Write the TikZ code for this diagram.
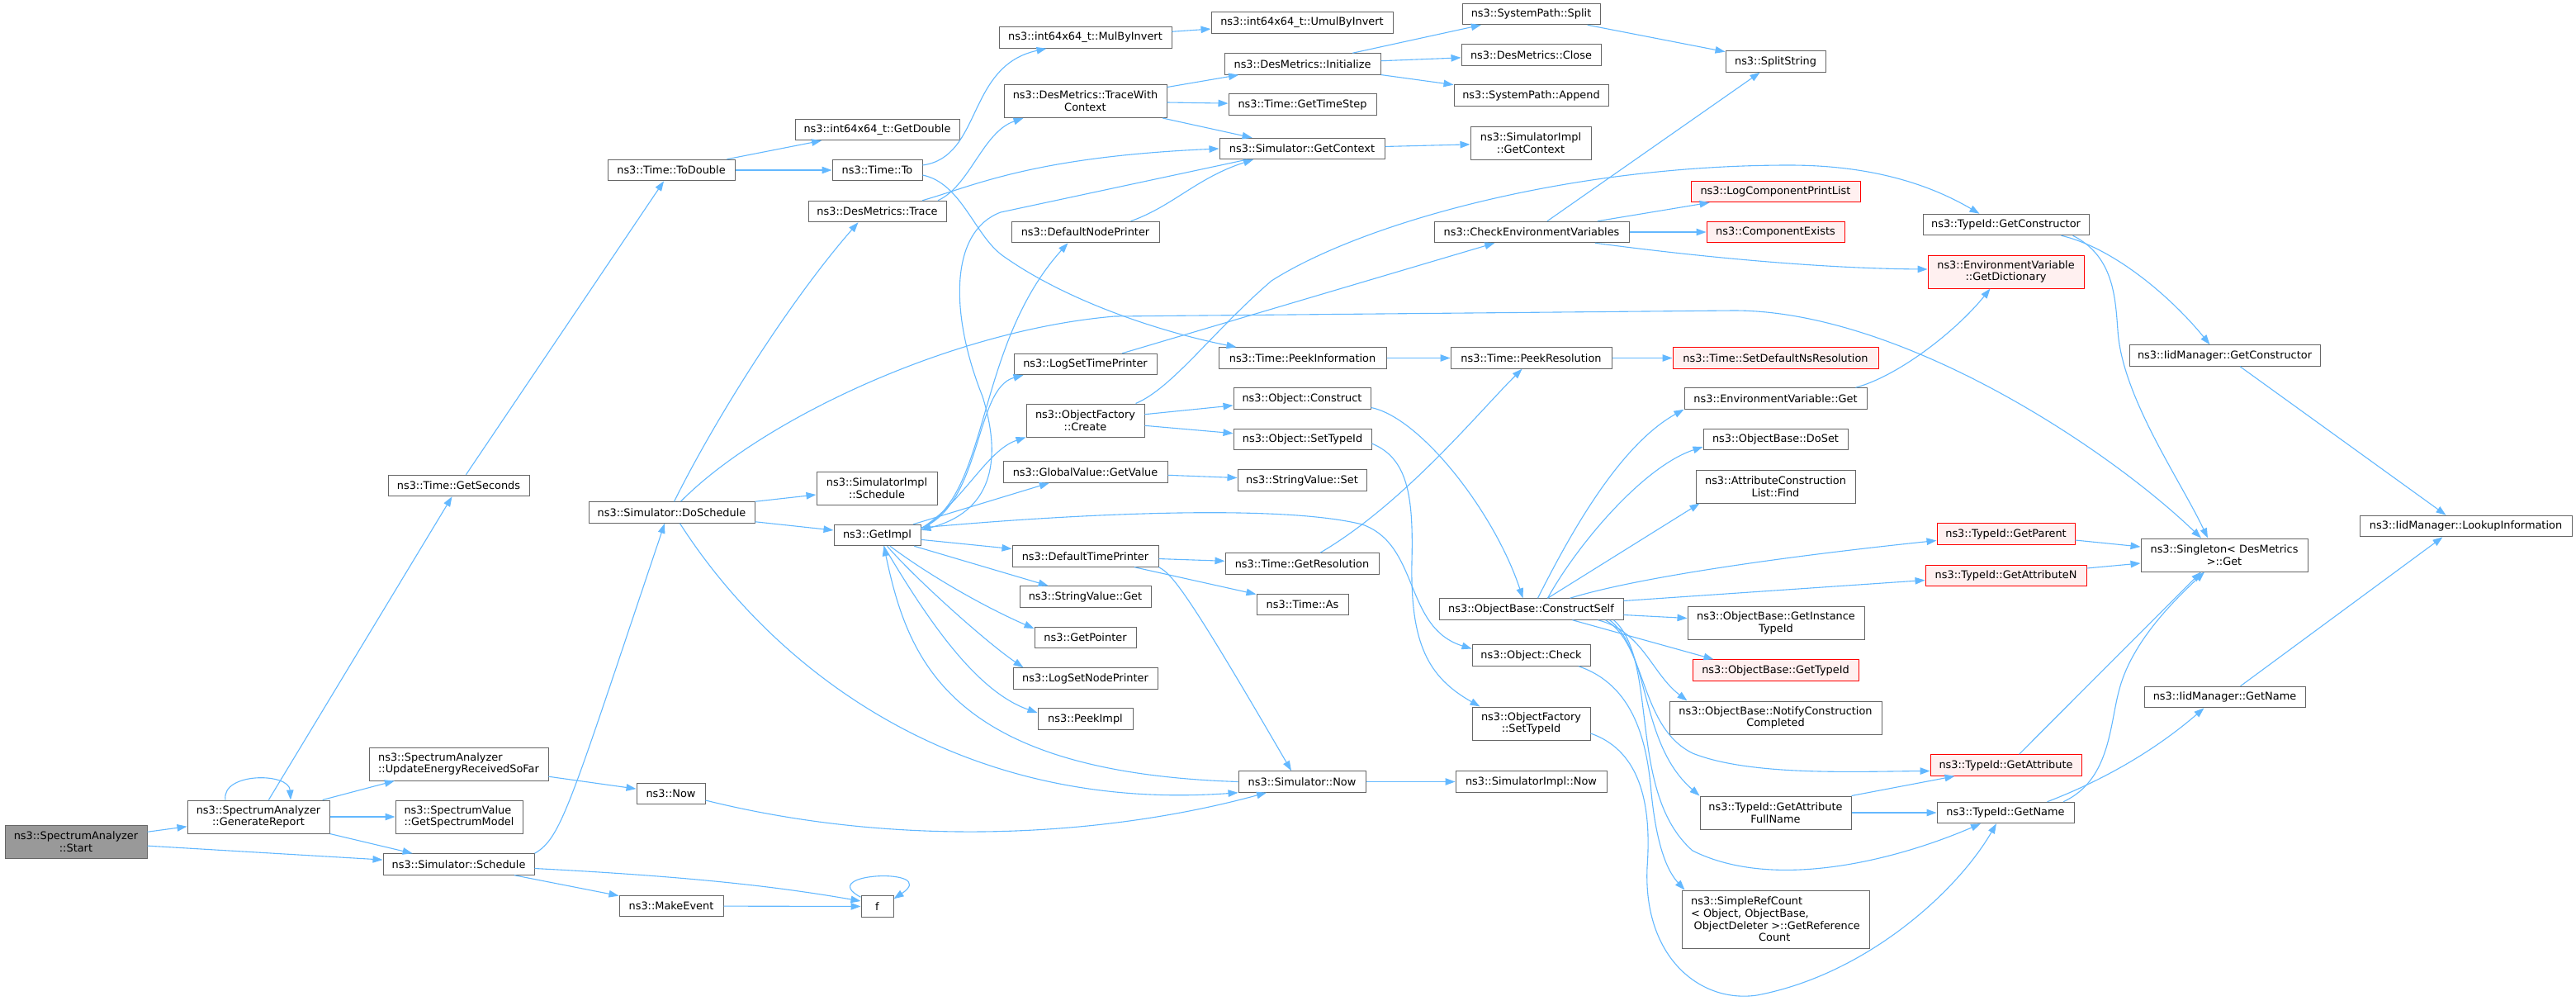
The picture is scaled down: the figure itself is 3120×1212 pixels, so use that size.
\documentclass[tikz,border=0pt]{standalone}
\usepackage{fontspec}
\newfontfamily\dxfont{DejaVu Sans}
\usetikzlibrary{arrows.meta}
\definecolor{edgeblue}{HTML}{63B8FF}
\definecolor{boxgray}{HTML}{666666}
\definecolor{redfill}{HTML}{FFF0F0}
\definecolor{startgray}{HTML}{999999}
\tikzset{
  fn/.style={draw=boxgray, fill=white, line width=1pt, inner sep=2pt,
    minimum height=25.5pt, minimum width=#1pt, align=center,
    font=\dxfont\fontsize{12.9}{14.7}\selectfont},
  fntwo/.style={fn=#1, minimum height=40pt},
  fnred/.style={fn=#1, draw=red, fill=redfill},
  call/.style={draw=edgeblue, line width=1.1pt, -{Triangle[length=12pt,width=8.5pt]}}
}

\begin{document}
\begin{tikzpicture}[x=1pt,y=-1pt]
\useasboundingbox (0,0) rectangle (3120,1212);

\node[fntwo=172, fill=startgray] (start) at (92,1019) {ns3::SpectrumAnalyzer\\::Start};
\node[fntwo=172] (genrep) at (313,989) {ns3::SpectrumAnalyzer\\::GenerateReport};
\node[fntwo=217, align=left] (upden) at (555.5,925) {ns3::SpectrumAnalyzer\\::UpdateEnergyReceivedSoFar};
\node[fntwo=154, align=left] (specmodel) at (556,989) {ns3::SpectrumValue\\::GetSpectrumModel};
\node[fn=183] (sched) at (555.5,1046.5) {ns3::Simulator::Schedule};
\node[fn=171] (seconds) at (555.5,588) {ns3::Time::GetSeconds};
\node[fn=154] (todouble) at (813,206) {ns3::Time::ToDouble};
\node[fn=83] (now) at (812.5,961) {ns3::Now};
\node[fn=126] (makeevent) at (813,1097) {ns3::MakeEvent};
\node[fn=201] (dosched) at (813.5,620.5) {ns3::Simulator::DoSchedule};
\node[fn=199] (getdouble) at (1062.5,157) {ns3::int64x64\_t::GetDouble};
\node[fn=109] (timeto) at (1062.5,206) {ns3::Time::To};
\node[fn=167] (trace) at (1062.5,256) {ns3::DesMetrics::Trace};
\node[fntwo=146] (simimplsched) at (1062,591) {ns3::SimulatorImpl\\::Schedule};
\node[fn=105] (getimpl) at (1062.5,648) {ns3::GetImpl};
\node[fn=39] (f) at (1062.5,1097.5) {f};
\node[fn=209] (mulbyinv) at (1314.5,45.5) {ns3::int64x64\_t::MulByInvert};
\node[fntwo=197] (tracectx) at (1314.5,122.5) {ns3::DesMetrics::TraceWith\\Context};
\node[fn=179] (defnodeprint) at (1314.5,281) {ns3::DefaultNodePrinter};
\node[fn=173] (logsettime) at (1314.5,441) {ns3::LogSetTimePrinter};
\node[fntwo=143] (ofcreate) at (1314.5,509) {ns3::ObjectFactory\\::Create};
\node[fn=199] (gvgetvalue) at (1314.5,571.5) {ns3::GlobalValue::GetValue};
\node[fn=177] (deftimeprint) at (1314.5,673.5) {ns3::DefaultTimePrinter};
\node[fn=159] (svget) at (1314.5,722.5) {ns3::StringValue::Get};
\node[fn=123] (getpointer) at (1314.5,772) {ns3::GetPointer};
\node[fn=175] (logsetnode) at (1314.5,821.5) {ns3::LogSetNodePrinter};
\node[fn=115] (peekimpl) at (1314.5,870.5) {ns3::PeekImpl};
\node[fn=220] (umulbyinv) at (1577,27.5) {ns3::int64x64\_t::UmulByInvert};
\node[fn=189] (desinit) at (1577.5,77.5) {ns3::DesMetrics::Initialize};
\node[fn=179] (timestep) at (1577.5,126.5) {ns3::Time::GetTimeStep};
\node[fn=200] (getcontext) at (1577,180) {ns3::Simulator::GetContext};
\node[fn=203] (peekinfo) at (1577.5,433.5) {ns3::Time::PeekInformation};
\node[fn=166] (objconstruct) at (1577,482.5) {ns3::Object::Construct};
\node[fn=167] (objsettype) at (1577.5,532) {ns3::Object::SetTypeId};
\node[fn=156] (svset) at (1577,581.5) {ns3::StringValue::Set};
\node[fn=186] (getres) at (1577,682.5) {ns3::Time::GetResolution};
\node[fn=111] (timeas) at (1577.5,732) {ns3::Time::As};
\node[fn=154] (simnow) at (1577,946.5) {ns3::Simulator::Now};
\node[fn=167] (pathsplit) at (1854.5,17) {ns3::SystemPath::Split};
\node[fn=169] (desclose) at (1854.5,66.5) {ns3::DesMetrics::Close};
\node[fn=187] (pathappend) at (1854.5,115.5) {ns3::SystemPath::Append};
\node[fntwo=146] (implgetctx) at (1854,173) {ns3::SimulatorImpl\\::GetContext};
\node[fn=236] (checkenv) at (1855,281) {ns3::CheckEnvironmentVariables};
\node[fn=195] (peekres) at (1854.5,433.5) {ns3::Time::PeekResolution};
\node[fn=223] (constructself) at (1854.5,737.5) {ns3::ObjectBase::ConstructSelf};
\node[fn=143] (objcheck) at (1854.5,793.5) {ns3::Object::Check};
\node[fntwo=143] (ofsettype) at (1854.5,876) {ns3::ObjectFactory\\::SetTypeId};
\node[fn=183] (implnow) at (1854.5,946.5) {ns3::SimulatorImpl::Now};
\node[fn=121] (splitstring) at (2150.5,74.5) {ns3::SplitString};
\node[fnred=205] (logcomplist) at (2150.5,232) {ns3::LogComponentPrintList};
\node[fnred=167] (compexists) at (2150.5,281) {ns3::ComponentExists};
\node[fnred=249] (setdefres) at (2150.5,433.5) {ns3::Time::SetDefaultNsResolution};
\node[fn=221] (envget) at (2150.5,482.5) {ns3::EnvironmentVariable::Get};
\node[fn=175] (doset) at (2150.5,532) {ns3::ObjectBase::DoSet};
\node[fntwo=193] (attrfind) at (2150.5,589) {ns3::AttributeConstruction\\List::Find};
\node[fntwo=214] (instancetid) at (2151,754.5) {ns3::ObjectBase::GetInstance\\TypeId};
\node[fnred=201] (gettypeid) at (2150.5,811.5) {ns3::ObjectBase::GetTypeId};
\node[fntwo=257] (notify) at (2150.5,869) {ns3::ObjectBase::NotifyConstruction\\Completed};
\node[fntwo=183] (fullname) at (2150.5,984) {ns3::TypeId::GetAttribute\\FullName};
\node[fn=227, minimum height=70pt, align=left] (refcount) at (2150.5,1113) {ns3::SimpleRefCount\\< Object, ObjectBase,\\\hspace*{3.5pt}ObjectDeleter >::GetReference\\\hspace*{82pt}Count};
\node[fn=201] (getconstructor) at (2429.5,272) {ns3::TypeId::GetConstructor};
\node[fnred=189, minimum height=40pt] (getdict) at (2429.5,329) {ns3::EnvironmentVariable\\::GetDictionary};
\node[fnred=167] (getparent) at (2429.5,646.5) {ns3::TypeId::GetParent};
\node[fnred=195] (getattrn) at (2429.5,697) {ns3::TypeId::GetAttributeN};
\node[fnred=183] (getattr) at (2429.5,926.5) {ns3::TypeId::GetAttribute};
\node[fn=166] (getname) at (2429,984) {ns3::TypeId::GetName};
\node[fn=231] (iidgetctor) at (2694.5,430.5) {ns3::IidManager::GetConstructor};
\node[fntwo=202] (singleton) at (2694,672) {ns3::Singleton< DesMetrics\\ >::Get};
\node[fn=195] (iidgetname) at (2694.5,844) {ns3::IidManager::GetName};
\node[fn=257] (lookup) at (2986.5,637) {ns3::IidManager::LookupInformation};

\draw[call] (start) -- (genrep);
\draw[call] (start) -- (sched);
\draw[call] ([xshift=-40pt]genrep.north) .. controls (268,935) and (350,935) .. ([xshift=39pt]genrep.north);
\draw[call] (genrep) -- (seconds);
\draw[call] (genrep) -- (upden);
\draw[call] (genrep) -- (specmodel);
\draw[call] (genrep) -- (sched);
\draw[call] (upden) -- (now);
\draw[call] (sched.north east) .. controls (680,1015) and (690,975) .. ([xshift=-8.5pt]dosched.south);
\draw[call] ([yshift=-5pt]sched.east) .. controls (850,1062) and (950,1075) .. ([yshift=6.5pt]f.west);
\draw[call] (sched) -- (makeevent);
\draw[call] (makeevent) -- (f);
\draw[call] ([yshift=-2pt]f.north west) .. controls (985,1056) and (1140,1050) .. ([yshift=-4pt]f.north east);
\draw[call] (seconds) -- (todouble);
\draw[call] (todouble) -- (getdouble);
\draw[call] (todouble) -- (timeto);
\draw[call] ([yshift=6pt]timeto.east) .. controls (1190,190) and (1170,80) .. ([xshift=-47pt]mulbyinv.south);
\draw[call] ([yshift=-6pt]timeto.east) .. controls (1165,222) and (1180,285) .. (1215,310) .. controls (1300,370) and (1420,405) .. ([xshift=-80pt]peekinfo.north);
\draw[call] (mulbyinv) -- (umulbyinv);
\draw[call] ([xshift=3pt]dosched.north) .. controls (870,500) and (960,360) .. ([xshift=-23pt]trace.south);
\draw[call] (dosched.north east) -- ([yshift=-8pt]simimplsched.west);
\draw[call] ([xshift=11pt]dosched.north) .. controls (920,510) and (1150,400) .. (1350,383) -- (2100,376) .. controls (2300,376) and (2550,540) .. ([xshift=-28pt]singleton.north);
\draw[call] ([yshift=2pt]dosched.south east) -- ([yshift=6pt]getimpl.west);
\draw[call] ([xshift=10pt]dosched.south) .. controls (930,800) and (1150,985) .. (simnow.south west);
\draw[call] ([yshift=-8pt]now.east) .. controls (1100,1030) and (1350,1010) .. ([xshift=-43pt]simnow.south);
\draw[call] (getimpl) -- (deftimeprint);
\draw[call] (getimpl) -- (svget);
\draw[call] ([xshift=15.5pt]getimpl.south) .. controls (1130,700) and (1197,737) .. ([yshift=11pt]getpointer.west);
\draw[call] ([xshift=12pt]getimpl.south) .. controls (1110,702) and (1195,778) .. ([xshift=13pt]logsetnode.north west);
\draw[call] ([xshift=8pt]getimpl.south) .. controls (1123,750) and (1182,837) .. ([yshift=7.5pt]peekimpl.west);
\draw[call] (simnow.west) .. controls (1150,935) and (1100,800) .. ([xshift=8pt]getimpl.south);
\draw[call] (getimpl) -- (gvgetvalue);
\draw[call] ([yshift=-5pt]getimpl.north east) .. controls (1165,610) and (1195,545) .. (ofcreate.south west);
\draw[call] ([yshift=-5pt]getimpl.north east) .. controls (1190,610) and (1180,470) .. ([xshift=12pt]logsettime.south west);
\draw[call] ([yshift=-5pt]getimpl.north east) .. controls (1200,600) and (1180,420) .. ([xshift=-21pt]defnodeprint.south);
\draw[call] ([xshift=-67pt]getcontext.south) -- (1212,257) .. controls (1150,280) and (1150,380) .. (1190,480) .. controls (1215,560) and (1200,620) .. ([yshift=-7pt]getimpl.north east);
\draw[call] ([yshift=9pt]getimpl.east) .. controls (1300,622) and (1550,610) .. (1650,635) .. controls (1720,660) and (1700,760) .. ([yshift=8pt]objcheck.west);
\draw[call] ([xshift=55pt]defnodeprint.north) .. controls (1420,250) and (1450,215) .. ([xshift=-59pt]getcontext.south);
\draw[call] ([xshift=54.5pt]trace.north) .. controls (1180,225) and (1250,190) .. (getcontext.west);
\draw[call] ([xshift=73.5pt]trace.north) .. controls (1175,225) and (1190,160) .. ([xshift=24pt]tracectx.south west);
\draw[call] (tracectx) -- (desinit);
\draw[call] (tracectx) -- (timestep);
\draw[call] (tracectx) -- (getcontext);
\draw[call] (desinit) -- (pathsplit);
\draw[call] (desinit) -- (desclose);
\draw[call] (desinit) -- (pathappend);
\draw[call] (getcontext) -- (implgetctx);
\draw[call] (pathsplit) -- (splitstring);
\draw[call] (checkenv) -- (splitstring);
\draw[call] (checkenv) -- (logcomplist);
\draw[call] (checkenv) -- (compexists);
\draw[call] ([xshift=77pt]checkenv.south) .. controls (2050,310) and (2200,325) .. ([yshift=3pt]getdict.west);
\draw[call] (logsettime) -- (checkenv);
\draw[call] ([xshift=61pt]ofcreate.north) .. controls (1420,470) and (1470,400) .. (1540,340) .. controls (1650,270) and (1900,200) .. (2167,200) .. controls (2270,200) and (2340,225) .. ([xshift=-32pt]getconstructor.north);
\draw[call] (ofcreate) -- (objconstruct);
\draw[call] (ofcreate) -- (objsettype);
\draw[call] (gvgetvalue) -- (svset);
\draw[call] (deftimeprint) -- (getres);
\draw[call] (deftimeprint) -- (timeas);
\draw[call] (deftimeprint.south east) .. controls (1420,695) and (1440,720) .. ([xshift=-13pt]simnow.north);
\draw[call] ([xshift=22pt]getres.north) .. controls (1700,610) and (1790,500) .. ([xshift=-11pt]peekres.south);
\draw[call] (peekinfo) -- (peekres);
\draw[call] (peekres) -- (setdefres);
\draw[call] (simnow) -- (implnow);
\draw[call] ([yshift=-11pt]objconstruct.east) .. controls (1720,505) and (1810,620) .. ([xshift=-10pt]constructself.north);
\draw[call] ([yshift=-5pt]objsettype.east) .. controls (1705,555) and (1712,600) .. (1710,680) .. controls (1708,780) and (1730,820) .. ([xshift=-62pt]ofsettype.north);
\draw[call] ([xshift=8pt]constructself.north) .. controls (1900,650) and (1960,540) .. (envget.south west);
\draw[call] ([xshift=20pt]constructself.north) .. controls (1910,660) and (1990,565) .. ([yshift=-9pt]doset.west);
\draw[call] ([xshift=20pt]constructself.north) -- ([xshift=-92pt]attrfind.south);
\draw[call] ([xshift=47pt]constructself.north) .. controls (1980,700) and (2150,675) .. ([yshift=-8pt]getparent.west);
\draw[call] ([yshift=10pt]constructself.east) -- ([yshift=-5.5pt]getattrn.west);
\draw[call] ([yshift=-7pt]constructself.east) -- ([yshift=6pt]instancetid.west);
\draw[call] ([xshift=50pt]constructself.south) -- ([xshift=-75pt]gettypeid.north);
\draw[call] ([xshift=81pt]constructself.south) .. controls (1990,765) and (2000,815) .. ([xshift=-107pt]notify.north);
\draw[call] ([xshift=90pt]constructself.south) .. controls (1995,780) and (1985,880) .. (2050,912) .. controls (2120,940) and (2250,934) .. ([yshift=-7pt]getattr.west);
\draw[call] ([xshift=95pt]constructself.south) .. controls (2000,790) and (1985,900) .. (fullname.north west);
\draw[call] ([xshift=100pt]constructself.south) .. controls (2010,800) and (1970,960) .. (2050,1030) .. controls (2150,1080) and (2300,1040) .. ([xshift=-30pt]getname.south);
\draw[call] ([xshift=57.5pt]objcheck.south) .. controls (1980,830) and (1995,900) .. (2000,960) .. controls (2005,1010) and (2015,1050) .. ([xshift=4pt]refcount.north west);
\draw[call] ([yshift=-12pt]ofsettype.east) .. controls (1990,910) and (2000,980) .. (1995,1050) .. controls (1990,1160) and (2060,1215) .. (2128,1205) .. controls (2260,1180) and (2370,1080) .. ([xshift=-11pt]getname.south);
\draw[call] ([xshift=16pt]getattr.north) -- ([xshift=-28pt]singleton.south);
\draw[call] ([xshift=70pt]getname.north) .. controls (2555,945) and (2555,880) .. (2566,838) .. controls (2580,780) and (2630,730) .. ([xshift=-24pt]singleton.south);
\draw[call] ([xshift=50.5pt]getname.north) .. controls (2560,940) and (2620,900) .. ([xshift=-25pt]iidgetname.south);
\draw[call] ([yshift=-7.5pt]getparent.east) -- ([yshift=10pt]singleton.west);
\draw[call] ([yshift=9pt]getattrn.east) -- ([yshift=-10pt]singleton.west);
\draw[call] (fullname.north east) -- ([xshift=-62pt]getattr.south);
\draw[call] (fullname) -- (getname);
\draw[call] ([xshift=67pt]getconstructor.south) .. controls (2560,300) and (2630,360) .. ([xshift=-18pt]iidgetctor.north);
\draw[call] ([xshift=81pt]getconstructor.south) .. controls (2560,310) and (2562,360) .. (2565,400) .. controls (2570,480) and (2640,580) .. ([xshift=-20pt]singleton.north);
\draw[call] ([xshift=18.5pt]iidgetctor.south) -- ([xshift=-24pt]lookup.north);
\draw[call] ([xshift=19pt]iidgetname.north) -- ([xshift=-28pt]lookup.south);
\draw[call] ([xshift=97pt]envget.north) .. controls (2300,455) and (2370,400) .. ([xshift=-19pt]getdict.south);
\end{tikzpicture}
\end{document}
